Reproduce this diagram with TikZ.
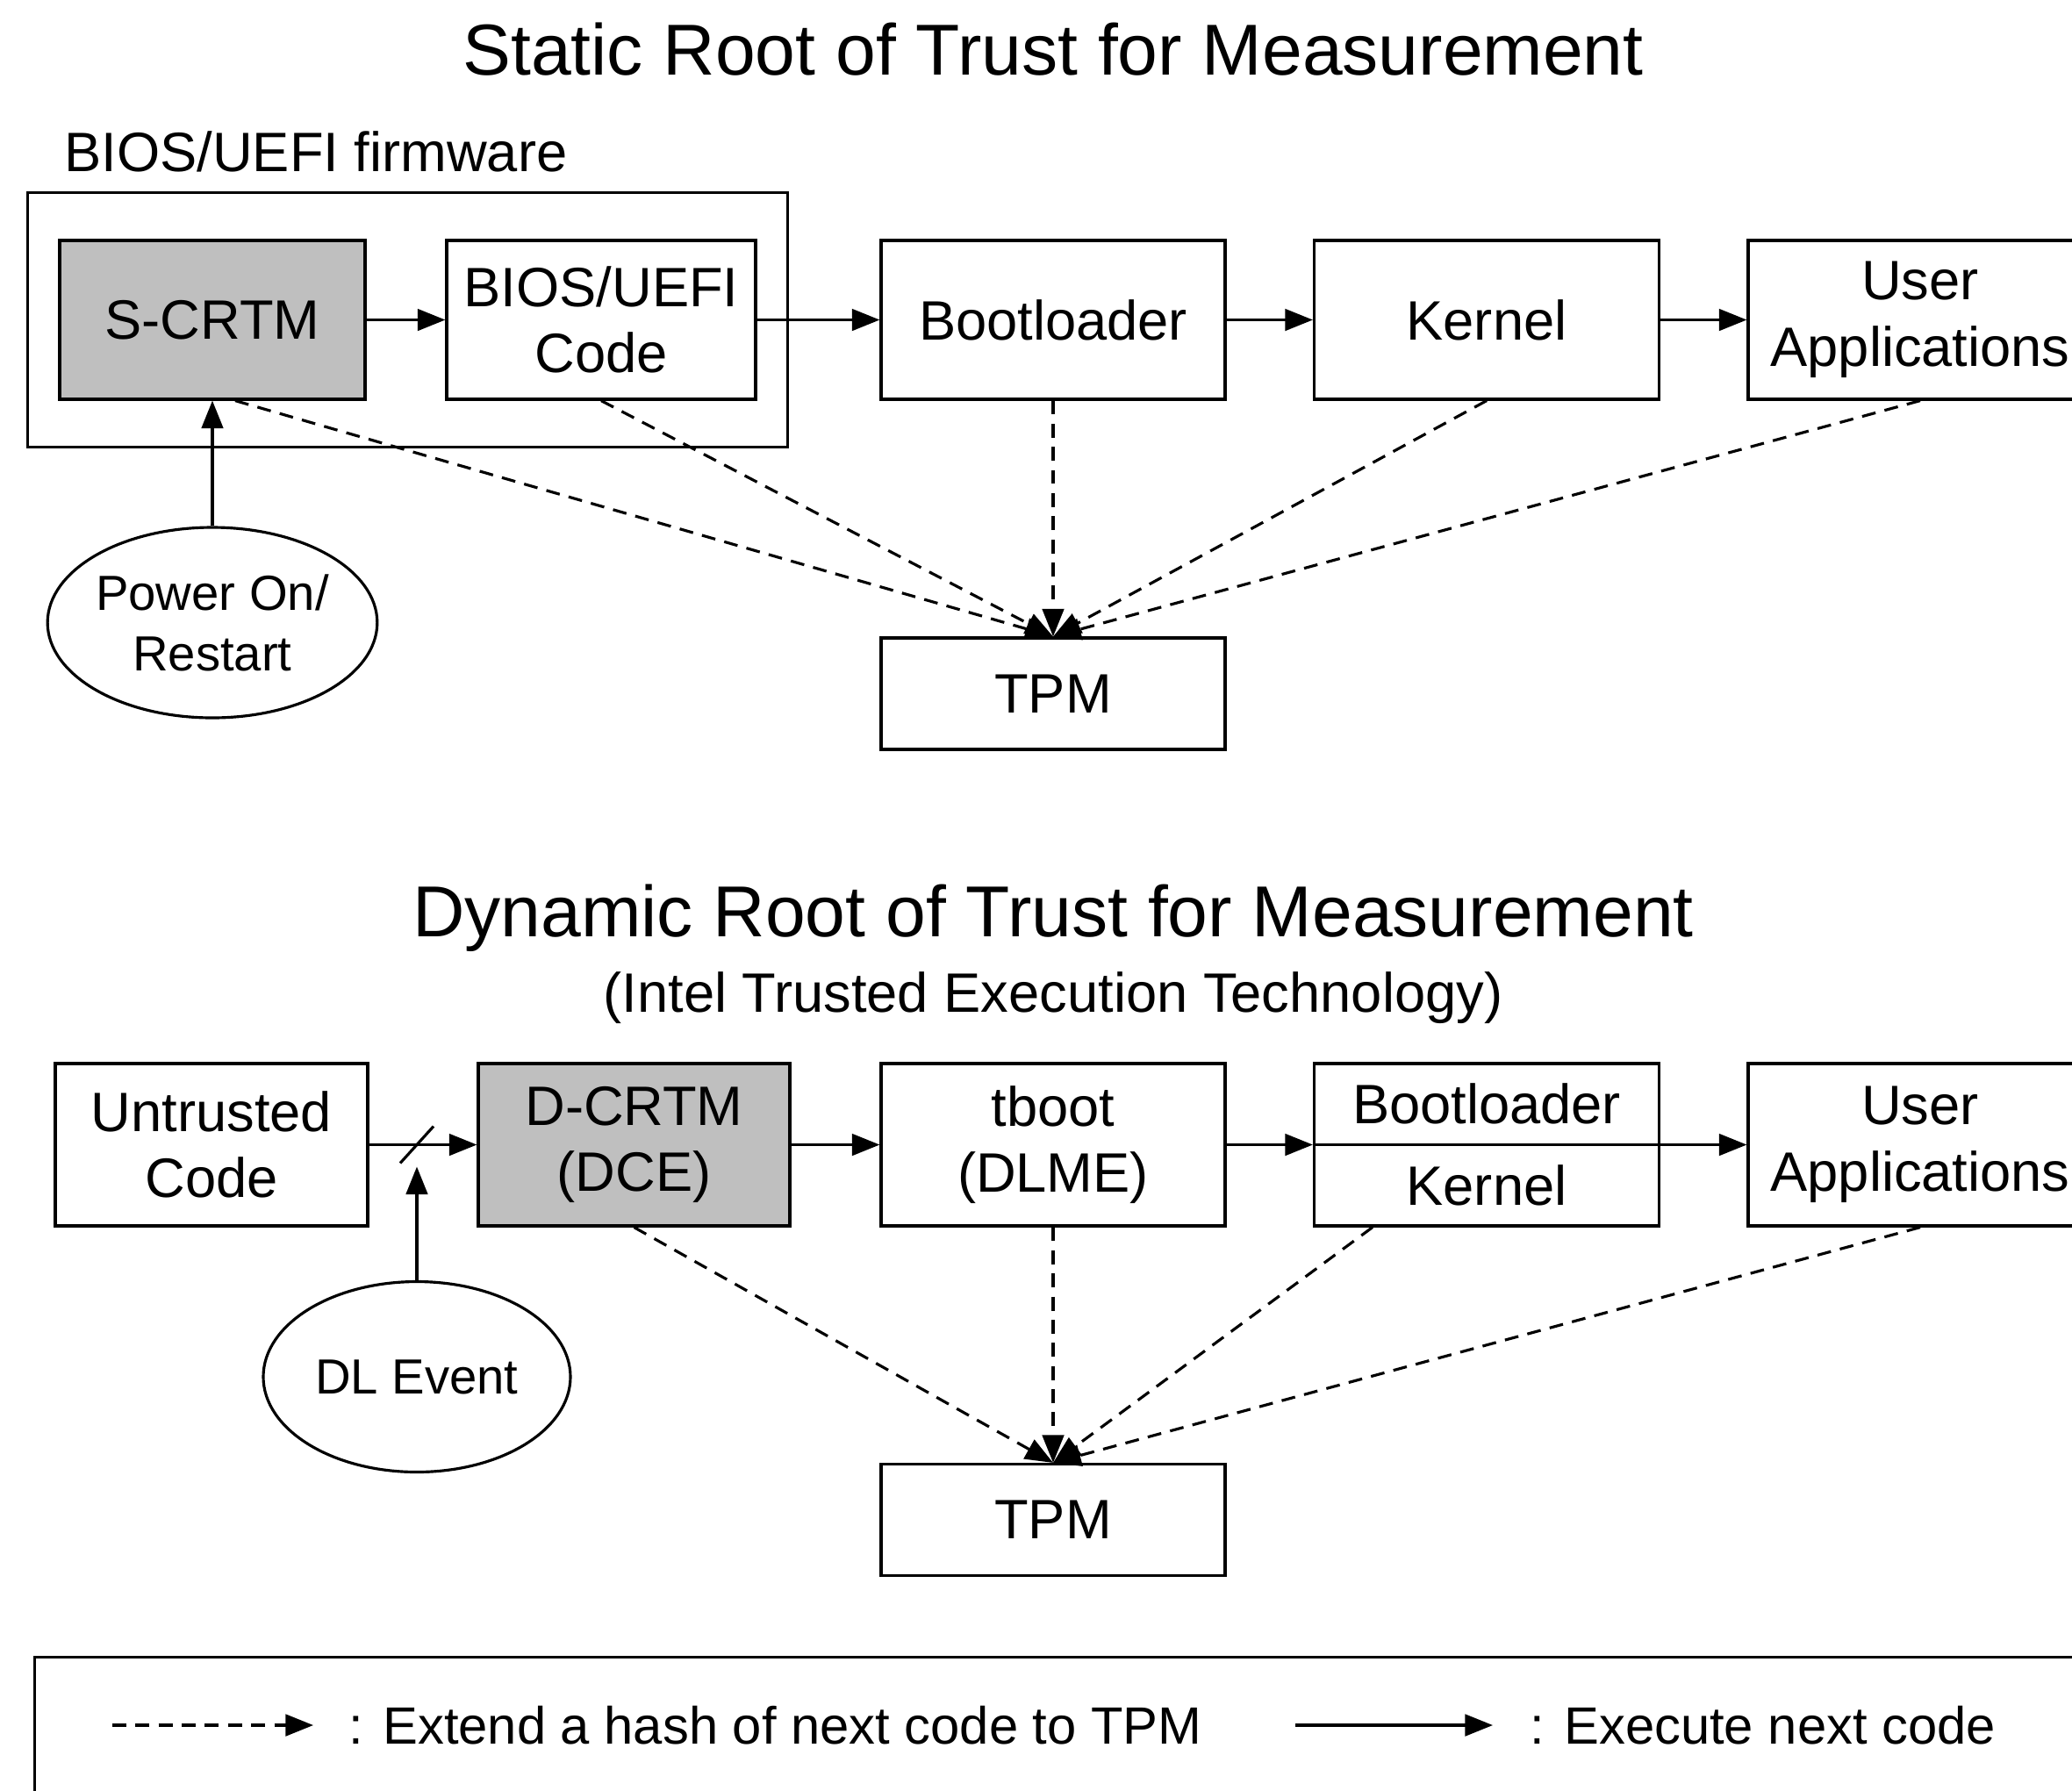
\documentclass[tikz,border=0pt]{standalone}
\usepackage{fontspec}
\setmainfont{Liberation Sans}
\usetikzlibrary{arrows.meta,positioning,shapes.geometric,fit,calc}
\def\hdfont{\fontsize{23.4}{28}\selectfont}
\def\bxfont{\fontsize{18}{21.5}\selectfont}
\def\elfont{\fontsize{16}{19.6}\selectfont}
\def\lgfont{\fontsize{17}{20}\selectfont}

\begin{document}
\begin{tikzpicture}[>={Triangle[length=9pt,width=7pt]},node distance=4.94cm,on grid,line width=0.9pt,
	code/.style={draw,rectangle,align=center,minimum height=1.81cm,inner sep=0pt,font=\bxfont},
	crtm/.style={code,fill=gray!50},
	event/.style={draw,ellipse,align=center,minimum width=3.5cm,minimum height=2.17cm,inner sep=0pt,font=\elfont},
	hash/.style={->,line width=0.9pt,dash pattern=on 4.5pt off 3pt}]
\clip (0,0) rectangle (23.61,-20.40);
% static chain
\node[font=\hdfont]									(stitle)	at (12,-0.56)					{Static Root of Trust for Measurement};
\node[crtm,minimum width=3.48cm]					(scrtm)		at (2.42,-3.645)				{S-CRTM};
\node[code,minimum width=3.52cm]					(bios)		[right=4.43cm of scrtm]			{BIOS/UEFI\\Code};
\node[code,minimum width=3.92cm]					(boot)		[right=5.15cm of bios]			{Bootloader};
\node[code,minimum width=3.93cm]					(kern)		[right=of boot]					{Kernel};
\node[code,minimum width=3.92cm]					(uapp)		[right=of kern]					{User\\Applications};
\node[code,minimum width=3.92cm,minimum height=1.27cm]	(tpm)	[below=4.26cm of boot]			{TPM};
\node[event]										(power)		[below=3.45cm of scrtm]			{Power On/\\Restart};
\node[draw,fit=(scrtm)(bios),inner xsep=0.35cm,inner ysep=0.53cm]	(fw)	{};
\node[anchor=base west,inner sep=0pt,font=\bxfont]	(fwname)	at ($(fw.north west)+(0.42,0.22)$)	{BIOS/UEFI firmware};
\path[->]
(scrtm)		edge	(bios)
(bios)		edge	(boot)
(boot)		edge	(kern)
(kern)		edge	(uapp)
(power)		edge	(scrtm);
\path[hash]
([xshift=0.26cm]scrtm.south)	edge	(tpm.north)
(bios.south)	edge	(tpm.north)
(boot.south)	edge	(tpm.north)
(kern.south)	edge	(tpm.north)
(uapp.south)	edge	(tpm.north);
% dynamic chain
\node[font=\hdfont]									(dtitle)	at (12,-10.46)					{Dynamic Root of Trust for Measurement};
\node[font=\bxfont]									(dsub)		[below=0.91cm of dtitle]		{(Intel Trusted Execution Technology)};
\node[code,minimum width=3.56cm,minimum height=1.85cm]	(untr)	at (2.41,-13.045)				{Untrusted\\Code};
\node[crtm,minimum width=3.55cm,minimum height=1.85cm]	(dcrtm)	[right=4.815cm of untr]			{D-CRTM\\(DCE)};
\node[code,minimum width=3.92cm,minimum height=1.85cm]	(tboot)	[right=4.775cm of dcrtm]		{tboot\\(DLME)};
\node[code,minimum width=3.93cm,minimum height=1.85cm]	(bk)	[right=of tboot]				{Bootloader\\[5pt]Kernel};
\node[code,minimum width=3.92cm,minimum height=1.85cm]	(uapp2)	[right=of bk]					{User\\Applications};
\node[code,minimum width=3.92cm,minimum height=1.27cm]	(tpm2)	[below=4.275cm of tboot]		{TPM};
\node[event]										(dle)		[below right=2.645cm and 2.34cm of untr]	{DL Event};
\coordinate											(sw)		at (dle |- untr);
\coordinate[below=0.25cm of sw]						(swtip);
\draw[->]	(untr)	--	(dcrtm);
\draw		([shift={(-0.19,-0.21)}]sw)	--	([shift={(0.19,0.21)}]sw);
\draw[->]	(dle)	--	(swtip);
\draw		(bk.west)	--	(bk.east);
\path[->]
(dcrtm)		edge	(tboot)
(tboot)		edge	(bk)
(bk)		edge	(uapp2);
\path[hash]
(dcrtm.south)	edge	(tpm2.north)
(tboot.south)	edge	(tpm2.north)
([xshift=0.68cm]bk.south west)	edge	(tpm2.north)
(uapp2.south)	edge	(tpm2.north);
% legend
\node[draw,anchor=north west,minimum width=24cm,minimum height=2.5cm]	(legend)	at (0.38,-18.87)	{};
\coordinate											(hashfrom)	at (1.28,-19.66);
\node[anchor=west,inner sep=0pt,font=\lgfont]		(hashtxt)	at (3.96,-19.66)				{: Extend a hash of next code to TPM};
\coordinate											(execfrom)	at (14.76,-19.66);
\node[anchor=west,inner sep=0pt,font=\lgfont]		(exectxt)	at (17.42,-19.66)				{: Execute next code};
\draw[hash,shorten >=0.39cm]	(hashfrom)	--	(hashtxt.west);
\draw[->,shorten >=0.41cm]		(execfrom)	--	(exectxt.west);
\end{tikzpicture}
\end{document}
